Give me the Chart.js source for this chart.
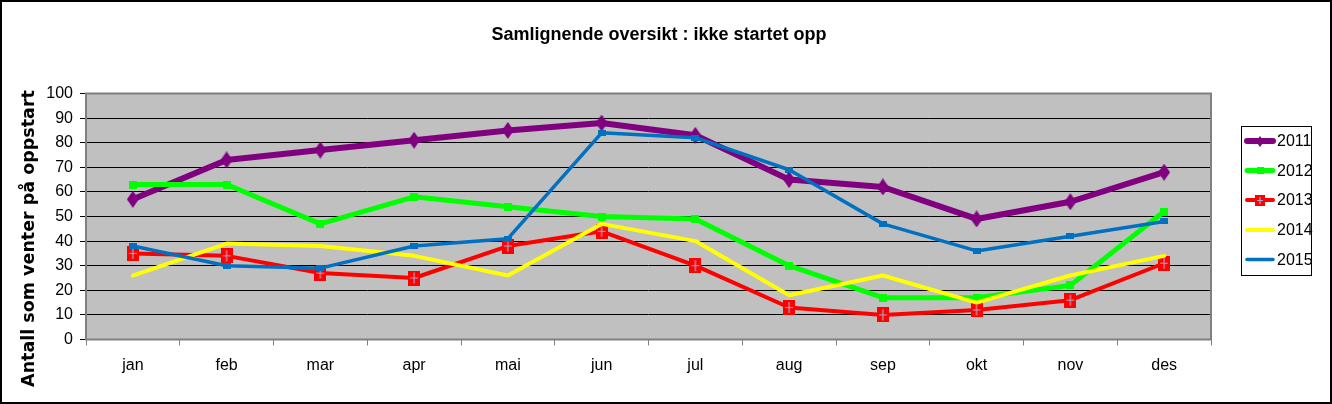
<!DOCTYPE html>
<html><head><meta charset="utf-8">
<script src="https://cdn.jsdelivr.net/npm/chart.js@4.4.1/dist/chart.umd.min.js"></script>
<style>html,body{margin:0;padding:0;background:#fff}canvas{display:block}</style>
</head><body>
<canvas id="c" width="1332" height="404" style="width:1332px;height:404px"></canvas>
<script>
const categories = ['jan','feb','mar','apr','mai','jun','jul','aug','sep','okt','nov','des'];
const seriesNames = ['2011','2012','2013','2014','2015'];
const values2011 = [57, 73, 77, 81, 85, 88, 83, 65, 62, 49, 56, 68];
const values2012 = [63, 63, 47, 58, 54, 50, 49, 30, 17, 17, 22, 52];
const values2013 = [35, 34, 27, 25, 38, 44, 30, 13, 10, 12, 16, 31];
const values2014 = [26, 39, 38, 34, 26, 47, 40, 18, 26, 15, 26, 34];
const values2015 = [38, 30, 29, 38, 41, 84, 82, 69, 47, 36, 42, 48];
const yTicks = [0, 10, 20, 30, 40, 50, 60, 70, 80, 90, 100];
const chartTitle = 'Samlignende oversikt : ikke startet opp';
const yAxisTitle = 'Antall som venter på oppstart';

const NARROW = "'Liberation Sans Narrow', 'Liberation Sans', Arial, sans-serif";

function mk(w, h, draw) {
  const c = document.createElement('canvas');
  c.width = w; c.height = h;
  draw(c.getContext('2d'), w, h);
  return c;
}
function diamond(w, h, color) {
  return mk(w, h, (g) => {
    g.fillStyle = color; g.beginPath();
    g.moveTo(w / 2, 0); g.lineTo(w, h / 2); g.lineTo(w / 2, h); g.lineTo(0, h / 2);
    g.closePath(); g.fill();
  });
}
function rect(w, h, color) {
  return mk(w, h, (g) => { g.fillStyle = color; g.fillRect(0, 0, w, h); });
}
function crossRect(w, h, color, cross) {
  return mk(w, h, (g) => {
    g.fillStyle = color; g.fillRect(0, 0, w, h);
    g.strokeStyle = cross; g.lineWidth = 1.2; g.beginPath();
    g.moveTo(w / 2, 2); g.lineTo(w / 2, h - 2);
    g.moveTo(2, h / 2); g.lineTo(w - 2, h / 2);
    g.stroke();
  });
}

const colors = ['#800080', '#00FF00', '#FF0000', '#FFFF00', '#0070C0'];
const markers = [
  diamond(12, 17, colors[0]),
  rect(8, 8, colors[1]),
  crossRect(12, 15, colors[2], '#A3AACB'),
  null,
  rect(8, 6, colors[4])
];
const legendMarkers = [
  diamond(8, 11, colors[0]),
  rect(7, 7, colors[1]),
  crossRect(10, 11, colors[2], '#A3AACB'),
  null,
  null
];
const widths = [6, 5, 4, 4, 3.5];
const allValues = [values2011, values2012, values2013, values2014, values2015];

const datasets = seriesNames.map((name, i) => ({
  label: name,
  data: allValues[i],
  borderColor: colors[i],
  backgroundColor: colors[i],
  borderWidth: widths[i],
  tension: 0,
  fill: false,
  borderJoinStyle: 'round',
  borderCapStyle: 'round',
  pointStyle: markers[i] || 'circle',
  pointRadius: markers[i] ? 5 : 0,
  pointHoverRadius: markers[i] ? 5 : 0,
  order: 5 - i,
  legendMarker: legendMarkers[i]
}));

const bgPlugin = {
  id: 'bg',
  beforeDraw(chart) {
    const { ctx, chartArea: a } = chart;
    ctx.save();
    ctx.fillStyle = '#fff';
    ctx.fillRect(0, 0, chart.width, chart.height);
    ctx.fillStyle = '#C0C0C0';
    ctx.fillRect(a.left, a.top, a.right - a.left, a.bottom - a.top);
    ctx.restore();
  },
  beforeDatasetsDraw(chart) {
    const { ctx, chartArea: a } = chart;
    ctx.save();
    ctx.strokeStyle = '#808080';
    ctx.lineWidth = 2;
    ctx.strokeRect(a.left, a.top, a.right - a.left, a.bottom - a.top);
    ctx.restore();
  },
  afterDraw(chart) {
    const ctx = chart.ctx;
    ctx.save();
    ctx.strokeStyle = '#000';
    ctx.lineWidth = 2;
    ctx.strokeRect(1, 1, chart.width - 2, chart.height - 2);
    ctx.translate(29.5, 238.5);
    ctx.rotate(-Math.PI / 2);
    ctx.fillStyle = '#000';
    ctx.font = "bold 17.5px 'DejaVu Sans', sans-serif";
    ctx.textAlign = 'center';
    ctx.textBaseline = 'middle';
    ctx.fillText(yAxisTitle, 0, 0);
    ctx.restore();

    ctx.save();
    ctx.strokeStyle = '#000';
    ctx.lineWidth = 1;
    ctx.strokeRect(1241.5, 126.5, 70, 149);
    const rowY = [141, 170.5, 200, 230, 259.5];
    chart.data.datasets.forEach((ds, i) => {
      const y = rowY[i];
      ctx.strokeStyle = ds.borderColor;
      ctx.lineWidth = ds.borderWidth;
      ctx.lineCap = 'round';
      ctx.beginPath();
      ctx.moveTo(1247, y);
      ctx.lineTo(1273, y);
      ctx.stroke();
      const m = ds.legendMarker;
      if (m) ctx.drawImage(m, Math.round(1260 - m.width / 2), Math.round(y - m.height / 2));
      ctx.fillStyle = '#000';
      ctx.font = '16px ' + NARROW;
      ctx.textAlign = 'left';
      ctx.textBaseline = 'middle';
      ctx.fillText(ds.label, 1277, y + 1);
    });
    ctx.restore();
  }
};

new Chart(document.getElementById('c'), {
  type: 'line',
  data: { labels: categories, datasets },
  plugins: [bgPlugin],
  options: {
    responsive: false,
    devicePixelRatio: 1,
    animation: false,
    layout: { padding: { left: 0, top: 0, right: 14, bottom: 0 } },
    plugins: {
      legend: { display: false },
      tooltip: { enabled: false },
      title: {
        display: true,
        text: chartTitle,
        color: '#000',
        font: { family: "'Liberation Sans', Arial, sans-serif", size: 18, weight: 'bold' },
        padding: { top: 24, bottom: 47.9 }
      }
    },
    scales: {
      x: {
        type: 'category',
        offset: true,
        grid: { display: true, offset: true, drawOnChartArea: false, drawTicks: true, tickLength: 6, color: '#808080', lineWidth: 1 },
        border: { display: false },
        ticks: { color: '#000', font: { family: NARROW, size: 16 }, padding: 10, maxRotation: 0, autoSkip: false },
        afterFit(s) { s.height = 64.5; }
      },
      y: {
        type: 'linear',
        position: 'left',
        min: 0, max: 100,
        afterBuildTicks(s) { s.ticks = yTicks.map(v => ({ value: v })); },
        grid: { color: '#000', lineWidth: 1, drawTicks: true, tickLength: 6 },
        border: { display: false },
        ticks: { color: '#000', font: { family: NARROW, size: 16 }, padding: 7 },
        afterFit(s) { s.width = 86; }
      },
      yR: {
        type: 'linear',
        position: 'right',
        min: 0, max: 100,
        display: true,
        grid: { display: false, drawOnChartArea: false, drawTicks: false },
        border: { display: false },
        ticks: { display: false },
        afterFit(s) { s.width = 107; }
      }
    }
  }
});
</script>
</body></html>
